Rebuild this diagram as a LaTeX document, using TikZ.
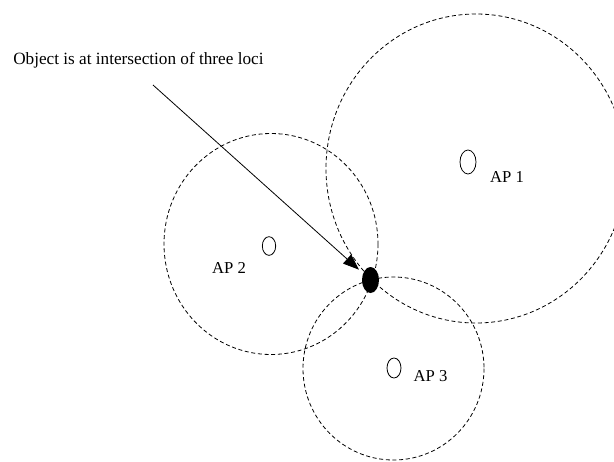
\documentclass[tikz,border=0pt]{standalone}
\usepackage{fontspec}
\setmainfont{Liberation Serif}
\usetikzlibrary{arrows.meta,shapes.geometric}
\tikzset{
  locus/.style={draw, line width=0.6pt, dash pattern=on 3pt off 2pt},
  apmark/.style={draw, ellipse, line width=0.6pt, inner sep=0pt},
  aplabel/.style={inner sep=0pt, font=\fontsize{12.5}{15}\selectfont},
  objdot/.style={fill, ellipse, inner sep=0pt},
  arrow/.style={-{Triangle[length=12pt,width=9pt]}, line width=0.6pt}
}
\begin{document}
\begin{tikzpicture}[x=0.75pt, y=-0.75pt]
  \useasboundingbox (0,0) rectangle (614,461);
  \clip (0,0) rectangle (614,461);
  % three loci
  \draw[locus] (476,168.5) ellipse [x radius=150, y radius=154.5];
  \draw[locus] (271,244) ellipse [x radius=107, y radius=110.5];
  \draw[locus] (393.5,368.5) ellipse [x radius=90.5, y radius=91.5];
  % access points
  \node[apmark, minimum width=12pt, minimum height=18pt] (ap1) at (468,162) {};
  \node[apmark, minimum width=10pt, minimum height=14pt] (ap2) at (269,246) {};
  \node[apmark, minimum width=10.5pt, minimum height=15pt] (ap3) at (394,368) {};
  \node[aplabel] (ap1lbl) at (507,176.5) {AP 1};
  \node[aplabel] (ap2lbl) at (229,267.5) {AP 2};
  \node[aplabel] (ap3lbl) at (430.5,376) {AP 3};
  % object
  \node[objdot, minimum width=12.75pt, minimum height=19.5pt] (obj) at (370.5,280) {};
  \node[aplabel, anchor=base west, font=\fontsize{12.9}{15}\selectfont] (note) at (13,64) {Object is at intersection of three loci};
  \coordinate (start) at (153,85);
  \draw[arrow, shorten >=4pt] (start) -- (obj);
\end{tikzpicture}
\end{document}
